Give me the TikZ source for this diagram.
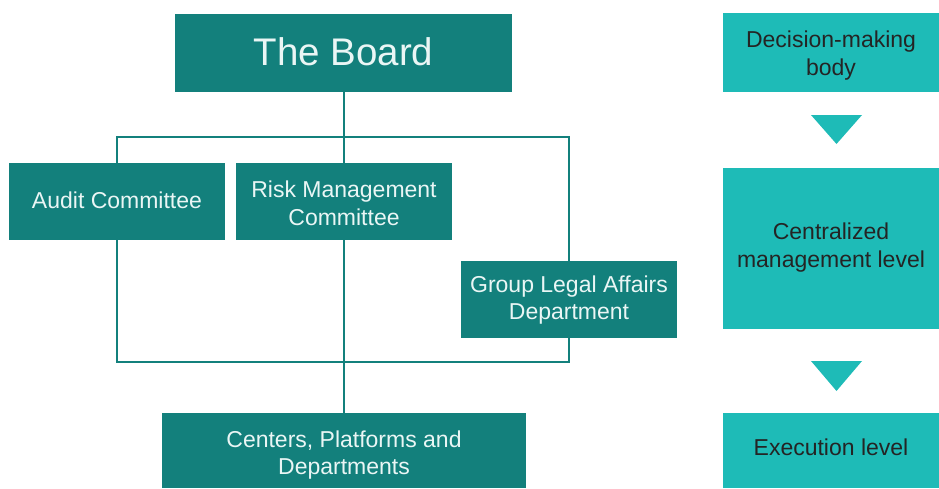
\documentclass[tikz,border=0pt]{standalone}
\usepackage{fontspec}
\setmainfont{Liberation Sans}
\usetikzlibrary{backgrounds}
\definecolor{orgteal}{HTML}{13807C}
\definecolor{levelteal}{HTML}{1EBBB7}
\definecolor{orgtext}{HTML}{EAF6F5}
\definecolor{leveltext}{HTML}{242424}
\begin{document}
\begin{tikzpicture}[x=1pt,y=-1pt,
  orgbox/.style={fill=orgteal, inner sep=0pt},
  levelbox/.style={fill=levelteal, inner sep=0pt, minimum width=216pt},
  % labels are placed by the baseline of their last line
  orglabel/.style={text=orgtext, inner sep=0pt, align=center, anchor=base,
    font=\fontsize{23}{27.5}\selectfont},
  levellabel/.style={text=leveltext, inner sep=0pt, align=center, anchor=base,
    font=\fontsize{23}{27.5}\selectfont},
  link/.style={draw=orgteal, line width=2pt},
  pointer/.style={fill=levelteal}]
\useasboundingbox (0,0) rectangle (939,488);

% organisation chart
\node[orgbox, minimum width=337pt, minimum height=78pt] (board) at (343.5,53) {};
\node[orgbox, minimum width=216pt, minimum height=77pt] (audit) at (117,201.5) {};
\node[orgbox, minimum width=216pt, minimum height=77pt] (risk) at (344,201.5) {};
\node[orgbox, minimum width=216pt, minimum height=77pt] (legal) at (569,299.5) {};
\node[orgbox, minimum width=364pt, minimum height=75pt] (units) at (344,450.5) {};

\node[orglabel, font=\fontsize{38.5}{44}\selectfont] (board-text) at (343.5,65.7) {The Board};
\node[orglabel] (audit-text) at (117,208.3) {Audit Committee};
\node[orglabel] (risk-text) at (344,225.3) {Risk Management\\Committee};
\node[orglabel] (legal-text) at (569,319.5) {Group Legal Affairs\\Department};
\node[orglabel] (units-text) at (344,474.5) {Centers, Platforms and\\Departments};

\coordinate (frametop) at (0,137);
\coordinate (framebottom) at (0,362);

\begin{scope}[on background layer]
  \draw[link] (board.south -| risk.center) -- (units.north -| risk.center);
  \draw[link] (audit.north) -- (audit.north |- frametop) -| (legal.north);
  \draw[link] (audit.south) -- (audit.south |- framebottom) -| (legal.south);
\end{scope}

% management levels
\node[levelbox, minimum height=79pt] (decision) at (831,52.5) {};
\node[levelbox, minimum height=161pt] (central) at (831,248.5) {};
\node[levelbox, minimum height=75pt] (execution) at (831,450.5) {};

\node[levellabel] (decision-text) at (831,75.3) {Decision-making\\body};
\node[levellabel] (central-text) at (831,267) {Centralized\\management level};
\node[levellabel] (execution-text) at (831,455.3) {Execution level};

\coordinate (arrowa) at (836.5,115);
\coordinate (arrowb) at (836.5,361);
\fill[pointer] (arrowa) ++(-25.5,0) -- ++(51,0) -- ++(-25.5,29) -- cycle;
\fill[pointer] (arrowb) ++(-25.5,0) -- ++(51,0) -- ++(-25.5,30) -- cycle;
\end{tikzpicture}
\end{document}
